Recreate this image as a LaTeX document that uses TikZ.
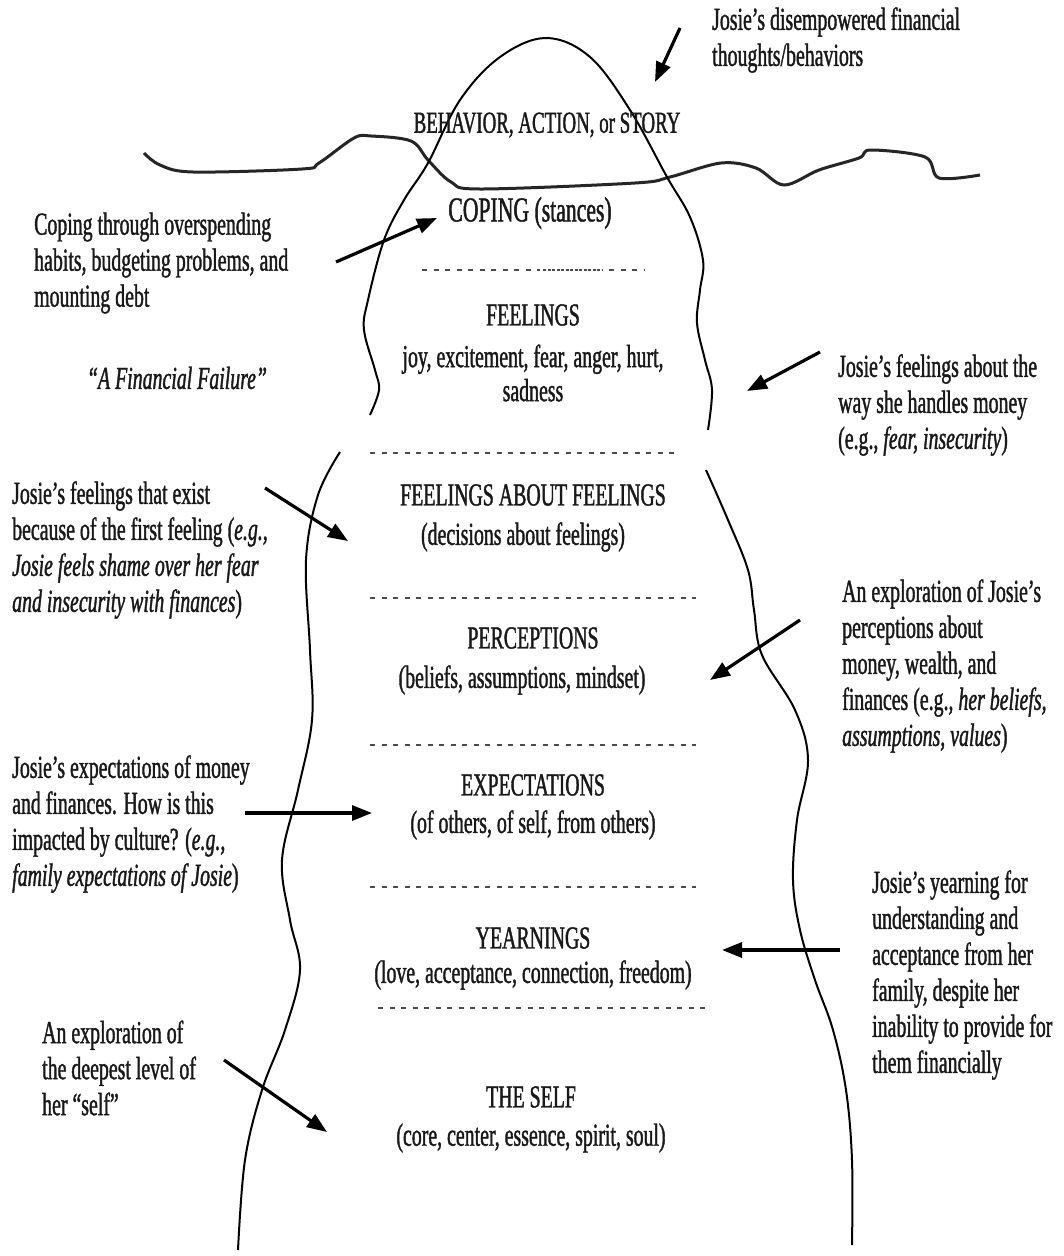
\documentclass[tikz,border=0pt]{standalone}
\usepackage{fontspec}
\setmainfont[FakeStretch=0.62, FakeBold=1.2]{Liberation Serif}
\usetikzlibrary{arrows.meta}
\tikzset{
  ann/.style={align=left, inner sep=0pt, font=\fontsize{32}{36}\selectfont, text=black!90},
  head/.style={align=center, inner sep=0pt, font=\fontsize{32}{36}\selectfont, text=black!90},
  sub/.style={align=center, inner sep=0pt, font=\fontsize{32}{34}\selectfont, text=black!90},
  sep/.style={line width=2pt, black!70, dash pattern=on 5pt off 6.5pt},
  densesep/.style={line width=2pt, black!70, dash pattern=on 3pt off 1.5pt},
  ice/.style={line width=2pt, black},
  water/.style={line width=3pt, black!85},
  pointer/.style={line width=3.2pt, black, -{Triangle[length=20pt,width=15pt]}}
}
\begin{document}
\begin{tikzpicture}[x=1pt,y=-1pt]
\useasboundingbox (0,0) rectangle (1064,1256);
\fill[white] (0,0) rectangle (1064,1256);

% water line
\draw[water] plot[smooth, tension=0.55] coordinates {(144,153) (160,165) (193,172) (302,169) (319,163) (354,138) (371,136) (411,141) (428,160) (451,182) (480,189) (635,183) (670,177) (721,163) (756,168) (784,185) (819,170) (859,158) (871,150) (925,157) (939,178) (980,175)};

% iceberg
\draw[ice] plot[smooth, tension=0.6] coordinates {(370,415) (379,390) (375,370) (364,330) (368,300) (384,240) (404,200) (428,163) (460,100) (500,57) (546,38) (590,57) (630,110) (667,177) (690,217) (703,260) (700,290) (697,323) (705,360) (712,390) (708,430)};
\draw[ice] plot[smooth, tension=0.6] coordinates {(340,452) (318,495) (306,560) (310,650) (312,720) (298,790) (282,860) (290,920) (300,970) (285,1030) (262,1090) (245,1160) (238,1250)};
\draw[ice] plot[smooth, tension=0.6] coordinates {(706,470) (728,520) (748,570) (754,610) (762,655) (795,710) (808,760) (797,820) (793,880) (800,930) (815,980) (833,1030) (846,1090) (852,1160) (852,1245)};

% separators
\draw[sep] (422,270) -- (540,270);
\draw[densesep] (543,270) -- (603,270);
\draw[sep] (609,270) -- (645,270);
\draw[sep] (370,453) -- (676,453);
\draw[sep] (370,598) -- (696,598);
\draw[sep] (370,745) -- (696,745);
\draw[sep] (370,887) -- (696,887);
\draw[sep] (378,1008) -- (706,1008);

% central labels
\node[head, font=\fontsize{30.5}{36}\selectfont] (behav) at (547,125) {BEHAVIOR, ACTION, or STORY};
\node[head, font=\fontsize{35}{36}\selectfont] (coping) at (530,213) {COPING (stances)};
\node[head] (feel) at (533,315) {FEELINGS};
\node[sub] (feelsub) at (533,373) {joy, excitement, fear, anger, hurt,\\sadness};
\node[head] (ff) at (533,495) {FEELINGS ABOUT FEELINGS};
\node[sub] (ffsub) at (523,537) {(decisions about feelings)};
\node[head] (perc) at (533,638) {PERCEPTIONS};
\node[sub] (percsub) at (522,680) {(beliefs, assumptions, mindset)};
\node[head] (expe) at (533,785) {EXPECTATIONS};
\node[sub] (expesub) at (533,825) {(of others, of self, from others)};
\node[head] (yearn) at (533,938) {YEARNINGS};
\node[sub] (yearnsub) at (533,975) {(love, acceptance, connection, freedom)};
\node[head] (self) at (531,1097) {THE SELF};
\node[sub] (selfsub) at (531,1138) {(core, center, essence, spirit, soul)};

% annotations
\node[ann, anchor=west] (a1) at (712,40) {Josie’s disempowered financial\\thoughts/behaviors};
\node[ann, anchor=west] (a2) at (34,263) {Coping through overspending\\habits, budgeting problems, and\\mounting debt};
\node[ann] (a2b) at (177,378) {\itshape “A Financial Failure”};
\node[ann, anchor=west] (a3) at (838,405) {Josie’s feelings about the\\way she handles money\\(e.g., \textit{fear, insecurity})};
\node[ann, anchor=west] (a4) at (12,550) {Josie’s feelings that exist\\because of the first feeling (\textit{e.g.,}\\\textit{Josie feels shame over her fear}\\\textit{and insecurity with finances})};
\node[ann, anchor=west] (a5) at (842,666) {An exploration of Josie’s\\perceptions about\\money, wealth, and\\finances (e.g., \textit{her beliefs,}\\\textit{assumptions, values})};
\node[ann, anchor=west] (a6) at (12,824) {Josie’s expectations of money\\and finances. How is this\\impacted by culture? (\textit{e.g.,}\\\textit{family expectations of Josie})};
\node[ann, anchor=west] (a7) at (872,975) {Josie’s yearning for\\understanding and\\acceptance from her\\family, despite her\\inability to provide for\\them financially};
\node[ann, anchor=west] (a8) at (42,1068) {An exploration of\\the deepest level of\\her “self”};

% arrow endpoints
\coordinate (s1) at (680,28);  \coordinate (t1) at (655,82);
\coordinate (s2) at (336,262); \coordinate (t2) at (437,218);
\coordinate (s3) at (820,352); \coordinate (t3) at (747,391);
\coordinate (s4) at (265,488); \coordinate (t4) at (348,541);
\coordinate (s5) at (800,620); \coordinate (t5) at (710,680);
\coordinate (s6) at (245,813); \coordinate (t6) at (372,813);
\coordinate (s7) at (840,950); \coordinate (t7) at (722,950);
\coordinate (s8) at (224,1060); \coordinate (t8) at (327,1132);
\foreach \i in {1,...,8} \draw[pointer] (s\i) -- (t\i);
\end{tikzpicture}
\end{document}
